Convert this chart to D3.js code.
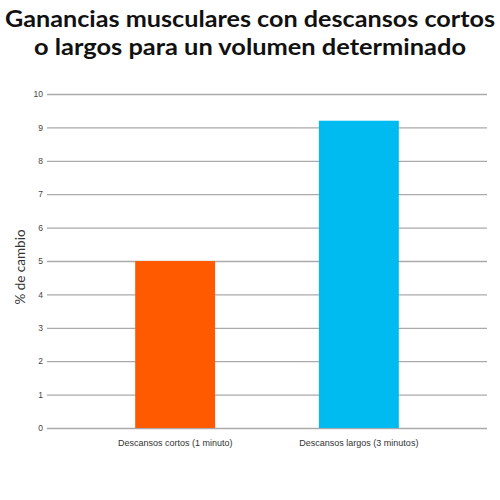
<!DOCTYPE html>
<html>
<head>
<meta charset="utf-8">
<script src="https://cdn.jsdelivr.net/npm/d3@7"></script>
<style>
  body { margin: 0; background: #fff; }
  svg { display: block; font-family: "Lato", "Open Sans", sans-serif; }
  .title { font-weight: 700; font-size: 23.5px; fill: #111; }
  .tick text { fill: #444; font-size: 8.5px; }
  .xlab .tick text { font-size: 9px; fill: #333; }
  .ylabel { font-size: 13.5px; fill: #333; }
</style>
</head>
<body>
<script>
// data
var categories = ["Descansos cortos (1 minuto)", "Descansos largos (3 minutos)"];
var values = [5.0, 9.2];
var barColors = ["#ff5a00", "#00bbf0"];
var yTicks = [0, 1, 2, 3, 4, 5, 6, 7, 8, 9, 10];
var titleLines = ["Ganancias musculares con descansos cortos", "o largos para un volumen determinado"];

var W = 500, H = 500;
var margin = { top: 94, right: 13, bottom: 72, left: 47 };

var svg = d3.select("body").append("svg")
    .attr("width", W)
    .attr("height", H);

// title, two lines (stretched to the width the original font takes)
var titleWidths = [490, 432];
svg.selectAll(".title")
    .data(titleLines)
  .enter().append("text")
    .attr("class", "title")
    .attr("text-anchor", "middle")
    .attr("x", W / 2)
    .attr("y", function (d, i) { return 27 + i * 28; })
    .attr("textLength", function (d, i) { return titleWidths[i]; })
    .attr("lengthAdjust", "spacingAndGlyphs")
    .text(function (d) { return d; });

var x = d3.scaleBand()
    .domain(categories)
    .range([margin.left, W - margin.right])
    .paddingInner(0.565)
    .paddingOuter(0.48);

var y = d3.scaleLinear()
    .domain([0, 10])
    .range([H - margin.bottom, margin.top]);

// gridlines + y tick labels
var yAxis = svg.append("g")
    .attr("transform", "translate(" + margin.left + ",0)")
    .call(d3.axisLeft(y)
        .tickValues(yTicks)
        .tickSize(-(W - margin.left - margin.right))
        .tickPadding(4));
yAxis.select(".domain").remove();
yAxis.selectAll(".tick line")
    .attr("stroke", "#aaa")
    .attr("stroke-width", 1.3);

// bars
svg.selectAll(".bar")
    .data(values)
  .enter().append("rect")
    .attr("class", "bar")
    .attr("x", function (d, i) { return x(categories[i]); })
    .attr("width", x.bandwidth())
    .attr("y", function (d) { return y(d); })
    .attr("height", function (d) { return y(0) - y(d); })
    .attr("fill", function (d, i) { return barColors[i]; });

// x labels
var xAxis = svg.append("g")
    .attr("class", "xlab")
    .attr("transform", "translate(0," + (H - margin.bottom) + ")")
    .call(d3.axisBottom(x).tickSize(0).tickPadding(12));
xAxis.select(".domain").remove();

// y axis title
svg.append("text")
    .attr("class", "ylabel")
    .attr("text-anchor", "middle")
    .attr("transform", "translate(25," + 267 + ") rotate(-90)")
    .text("% de cambio");
</script>
</body>
</html>
